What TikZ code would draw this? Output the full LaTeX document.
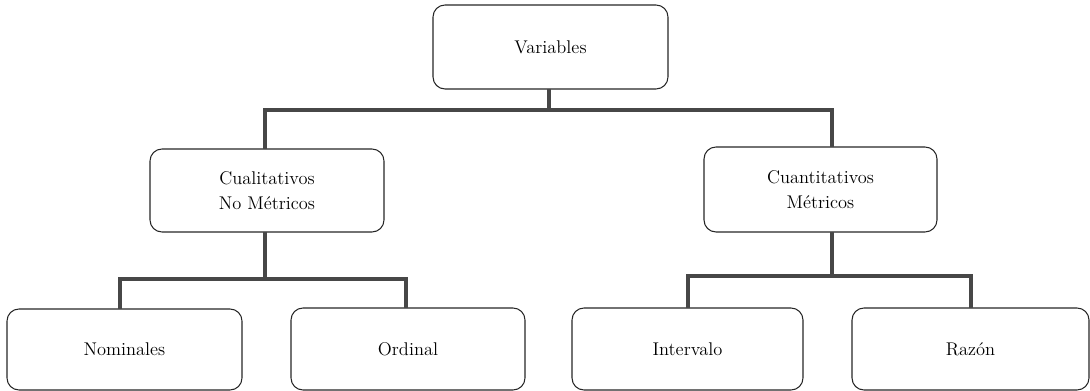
\documentclass[tikz,border=0pt]{standalone}
\begin{document}
\begin{tikzpicture}[x=0.75pt,y=-0.75pt,
  box/.style={draw=black!85,line width=0.8pt,rounded corners=9pt,inner sep=0pt,outer sep=0pt,
    align=center,font=\fontsize{13.8}{18.8}\selectfont,text=black},
  conn/.style={draw=black!72,line width=3pt}]
\useasboundingbox (0,0) rectangle (1090,391);
\node[box,minimum width=176.25pt,minimum height=63pt] (var) at (550.5,47) {Variables};
\node[box,minimum width=175.5pt,minimum height=62.25pt] (cual) at (267,190.5) {Cualitativos\\No Métricos};
\node[box,minimum width=174.75pt,minimum height=63.75pt] (cuan) at (820.5,189.5) {Cuantitativos\\Métricos};
\node[box,minimum width=176.25pt,minimum height=60.75pt] (nom) at (124.5,349.5) {Nominales};
\node[box,minimum width=175.5pt,minimum height=61.5pt] (ord) at (408,349) {Ordinal};
\node[box,minimum width=173.25pt,minimum height=61.5pt] (int) at (687.5,349) {Intervalo};
\node[box,minimum width=177.75pt,minimum height=61.5pt] (raz) at (970.5,349) {Razón};
\coordinate (j1) at (548,110.5);
\coordinate (j2) at (265,279);
\coordinate (j3) at (688,276);
\draw[conn] ([xshift=-1.5pt]var.south) -- ([xshift=-1.5pt]var.south |- j1);
\draw[conn] ([xshift=-1.5pt]cual.north) |- ([xshift=8.6pt]cuan.north |- j1) -- ([xshift=8.6pt]cuan.north);
\draw[conn] ([xshift=-1.5pt]cual.south) -- ([xshift=-1.5pt]cual.south |- j2);
\draw[conn] ([xshift=-3.4pt]nom.north) |- ([xshift=-1.5pt]ord.north |- j2) -- ([xshift=-1.5pt]ord.north);
\draw[conn] ([xshift=8.6pt]cuan.south) -- ([xshift=8.6pt]cuan.south |- j3);
\draw[conn] (int.north) |- (raz.north |- j3) -- (raz.north);
\end{tikzpicture}
\end{document}
